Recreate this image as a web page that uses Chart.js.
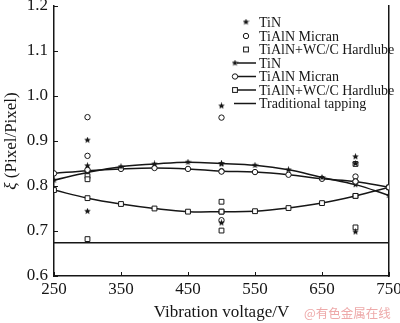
<!DOCTYPE html>
<html>
<head>
<meta charset="utf-8">
<script src="https://cdn.jsdelivr.net/npm/chart.js@4.4.1/dist/chart.umd.min.js"></script>
<style>
  html, body { margin: 0; padding: 0; background: #fff; }
  #wrap { width: 400px; height: 323px; }
</style>
</head>
<body>
<div id="wrap"><canvas id="xiChart" width="400" height="323"></canvas></div>
<script>
// ============================================
// DATA
// ============================================

const VOLTAGES = [250, 300, 350, 400, 450, 500, 550, 600, 650, 700, 750];
const TIN_FIT = [0.813, 0.830, 0.843, 0.849, 0.853, 0.850, 0.846, 0.836, 0.819, 0.803, 0.779];
const MICRAN_FIT = [0.828, 0.834, 0.838, 0.840, 0.838, 0.833, 0.831, 0.825, 0.816, 0.810, 0.797];
const HARDLUBE_FIT = [0.791, 0.773, 0.760, 0.750, 0.743, 0.743, 0.744, 0.751, 0.762, 0.778, 0.797];

const TEST_VOLTAGES = [300, 300, 300, 500, 500, 500, 700, 700, 700];
const TIN_TEST = [0.902, 0.845, 0.744, 0.978, 0.849, 0.718, 0.865, 0.850, 0.698];
const MICRAN_TEST = [0.953, 0.867, 0.836, 0.952, 0.832, 0.724, 0.821, 0.810, 0.810];
const HARDLUBE_TEST = [0.822, 0.815, 0.682, 0.765, 0.743, 0.701, 0.849, 0.778, 0.708];

const TRADITIONAL_X = [250, 750];
const TRADITIONAL = [0.674, 0.674];

const LEGEND_LABELS = [
  "TiN", "TiAlN Micran", "TiAlN+WC/C Hardlube",
  "TiN", "TiAlN Micran", "TiAlN+WC/C Hardlube",
  "Traditional tapping"
];

const INK = "#161616";
const SERIF = "'Liberation Serif', 'Times New Roman', serif";


// ============================================
// HELPERS
// ============================================

function makeStar(size) {
  const c = document.createElement("canvas");
  c.width = size;
  c.height = size;
  const g = c.getContext("2d");
  const R = size / 2, r = R * 0.45;
  g.beginPath();
  for (let i = 0; i < 10; i++) {
    const a = -Math.PI / 2 + i * Math.PI / 5;
    const rad = i % 2 ? r : R;
    g.lineTo(R + rad * Math.cos(a), R + rad * Math.sin(a));
  }
  g.closePath();
  g.fillStyle = INK;
  g.fill();
  return c;
}

const STAR = makeStar(7);

const pairs = (xs, ys) => xs.map((x, i) => ({ x, y: ys[i] }));

function drawMarker(ctx, kind, x, y) {
  ctx.save();
  ctx.strokeStyle = INK;
  ctx.fillStyle = "#fff";
  ctx.lineWidth = 1;
  if (kind === "star") {
    ctx.drawImage(STAR, x - STAR.width / 2, y - STAR.height / 2);
  } else if (kind === "circle") {
    ctx.beginPath();
    ctx.arc(x, y, 2.7, 0, Math.PI * 2);
    ctx.fill();
    ctx.stroke();
  } else if (kind === "rect") {
    ctx.fillRect(x - 2.4, y - 2.4, 4.8, 4.8);
    ctx.strokeRect(x - 2.4, y - 2.4, 4.8, 4.8);
  }
  ctx.restore();
}


// ============================================
// PLUGINS
// ============================================

const decorations = {
  id: "decorations",
  afterDraw(chart) {
    const ctx = chart.ctx;
    const xs = chart.scales.x;
    const ys = chart.scales.y;
    const area = chart.chartArea;

    // inward ticks
    ctx.save();
    ctx.strokeStyle = INK;
    ctx.lineWidth = 1;
    xs.ticks.forEach(t => {
      const px = Math.round(xs.getPixelForValue(t.value)) + 0.5;
      ctx.beginPath();
      ctx.moveTo(px, area.bottom);
      ctx.lineTo(px, area.bottom - 4);
      ctx.stroke();
    });
    ys.ticks.forEach(t => {
      const py = Math.round(ys.getPixelForValue(t.value)) + 0.5;
      ctx.beginPath();
      ctx.moveTo(area.left, py);
      ctx.lineTo(area.left + 4, py);
      ctx.stroke();
    });
    ctx.restore();

    // legend
    const kinds = ["star", "circle", "rect", "star", "circle", "rect", null];
    const withLine = [false, false, false, true, true, true, true];
    const rowY = [22, 36, 49.5, 63, 76.5, 90, 103.5];
    ctx.save();
    ctx.font = "14px " + SERIF;
    ctx.fillStyle = INK;
    ctx.textBaseline = "middle";
    LEGEND_LABELS.forEach((label, i) => {
      const y = rowY[i];
      if (withLine[i]) {
        ctx.strokeStyle = INK;
        ctx.lineWidth = 1.5;
        ctx.beginPath();
        ctx.moveTo(kinds[i] ? 237 : 234, y);
        ctx.lineTo(256, y);
        ctx.stroke();
        if (kinds[i]) drawMarker(ctx, kinds[i], 235, y);
      } else {
        drawMarker(ctx, kinds[i], 246, y);
      }
      ctx.fillText(label, 259, y + 1);
    });
    ctx.restore();

    // y axis title
    ctx.save();
    ctx.translate(12, 141);
    ctx.rotate(-Math.PI / 2);
    ctx.fillStyle = INK;
    ctx.textBaseline = "middle";
    const xiFont = "italic 17px " + SERIF;
    const restFont = "17px " + SERIF;
    ctx.font = xiFont;
    const w1 = ctx.measureText("\u03BE").width;
    ctx.font = restFont;
    const rest = " (Pixel/Pixel)";
    const w2 = ctx.measureText(rest).width;
    let start = -(w1 + w2) / 2;
    ctx.font = xiFont;
    ctx.fillText("\u03BE", start, 0);
    ctx.font = restFont;
    ctx.fillText(rest, start + w1, 0);
    ctx.restore();

    // watermark
    ctx.save();
    ctx.font = "12.5px 'Noto Sans CJK SC', sans-serif";
    ctx.fillStyle = "#eeaaaa";
    ctx.textBaseline = "middle";
    ctx.fillText("@有色金属在线", 304, 313);
    ctx.restore();
  }
};


// ============================================
// CHART
// ============================================

Chart.defaults.font.family = SERIF;
Chart.defaults.color = INK;

function fitLine(label, values, style, radius) {
  return {
    type: "line",
    label,
    data: pairs(VOLTAGES, values),
    borderColor: INK,
    borderWidth: 1.5,
    tension: 0.4,
    pointStyle: style,
    pointRadius: radius,
    pointBackgroundColor: "#fff",
    pointBorderColor: INK,
    pointBorderWidth: 1,
    order: 2
  };
}

function testPoints(label, values, style, radius) {
  return {
    type: "scatter",
    label,
    data: pairs(TEST_VOLTAGES, values),
    pointStyle: style,
    pointRadius: radius,
    backgroundColor: "#fff",
    borderColor: INK,
    borderWidth: 1,
    order: 1
  };
}

new Chart(document.getElementById("xiChart"), {
  data: {
    datasets: [
      testPoints("TiN", TIN_TEST, STAR, 3.5),
      testPoints("TiAlN Micran", MICRAN_TEST, "circle", 2.7),
      testPoints("TiAlN+WC/C Hardlube", HARDLUBE_TEST, "rect", 3.4),
      fitLine("TiN", TIN_FIT, STAR, 3.5),
      fitLine("TiAlN Micran", MICRAN_FIT, "circle", 2.7),
      fitLine("TiAlN+WC/C Hardlube", HARDLUBE_FIT, "rect", 3.4),
      {
        type: "line",
        label: "Traditional tapping",
        data: pairs(TRADITIONAL_X, TRADITIONAL),
        borderColor: INK,
        borderWidth: 1.5,
        pointRadius: 0,
        order: 3
      }
    ]
  },
  options: {
    responsive: false,
    animation: false,
    events: [],
    layout: { padding: { top: 6, left: 0, right: 0, bottom: 0 } },
    plugins: {
      legend: { display: false },
      tooltip: { enabled: false }
    },
    scales: {
      x: {
        type: "linear",
        min: 250,
        max: 750,
        ticks: {
          stepSize: 100,
          font: { size: 17 },
          color: INK,
          padding: 3,
          maxRotation: 0
        },
        grid: { drawOnChartArea: false, drawTicks: false },
        border: { display: true, color: INK, width: 1.5 },
        title: {
          display: true,
          text: "Vibration voltage/V",
          font: { size: 17 },
          color: INK,
          padding: { top: 5, bottom: 0 }
        },
        afterFit(scale) {
          scale.height = 47;
          scale.paddingLeft = 0;
          scale.paddingRight = 0;
        }
      },
      y: {
        type: "linear",
        min: 0.6,
        max: 1.2,
        ticks: {
          stepSize: 0.1,
          font: { size: 17 },
          color: INK,
          padding: 6,
          callback: v => v.toFixed(1)
        },
        grid: { drawOnChartArea: false, drawTicks: false },
        border: { display: true, color: INK, width: 1.5 },
        afterFit(scale) {
          scale.width = 54;
          scale.paddingTop = 0;
          scale.paddingBottom = 0;
        }
      },
      y2: {
        type: "linear",
        position: "right",
        min: 0.6,
        max: 1.2,
        ticks: { display: false },
        grid: { drawOnChartArea: false, drawTicks: false },
        border: { display: true, color: INK, width: 1.5 },
        afterFit(scale) {
          scale.width = 11;
        }
      }
    }
  },
  plugins: [decorations]
});
</script>
</body>
</html>
